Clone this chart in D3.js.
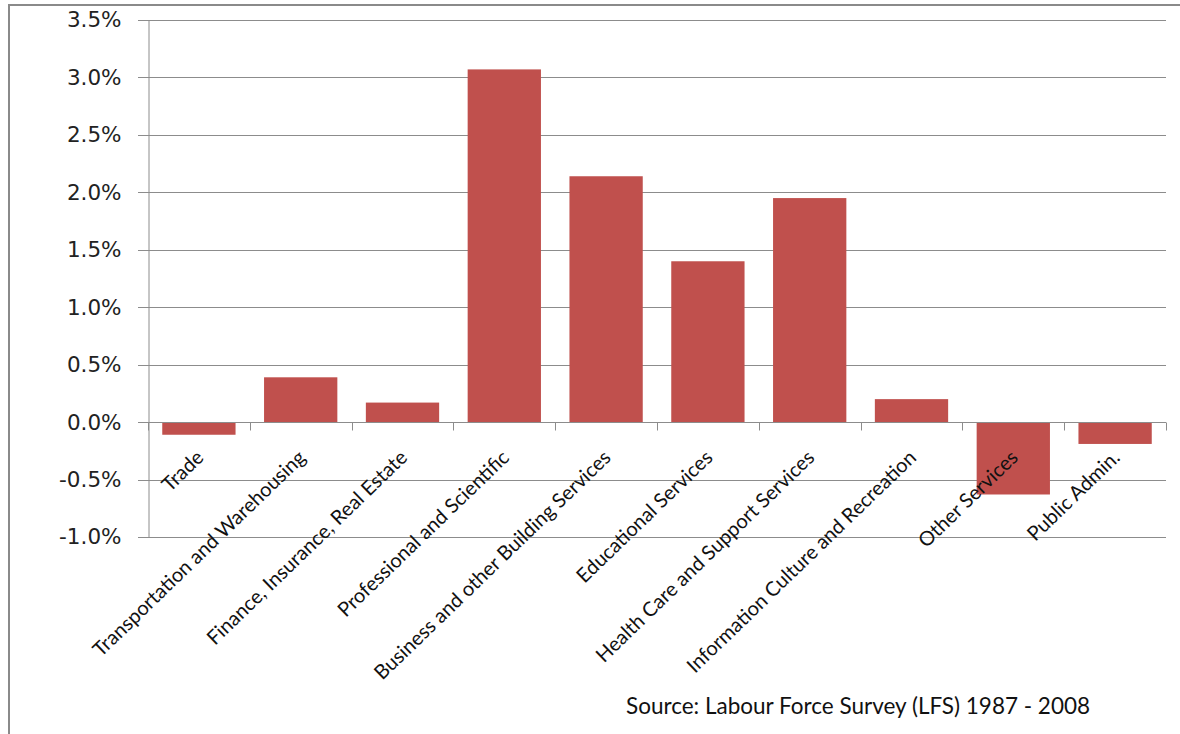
<!DOCTYPE html>
<html>
<head>
<meta charset="utf-8">
<script src="https://cdn.jsdelivr.net/npm/d3@7"></script>
<style>
  body { margin: 0; background: #fff; }
  svg { display: block; }
</style>
</head>
<body>
<div id="chart"></div>
<script>
// chart data
var categories = ["Trade", "Transportation and Warehousing", "Finance, Insurance, Real Estate",
    "Professional and Scientific", "Business and other Building Services", "Educational Services",
    "Health Care and Support Services", "Information Culture and Recreation", "Other Services",
    "Public Admin."];
var values = [-0.0011, 0.0039, 0.0017, 0.0307, 0.0214, 0.0140, 0.0195, 0.0020, -0.0063, -0.0019];
var yTicks = [-0.01, -0.005, 0, 0.005, 0.01, 0.015, 0.02, 0.025, 0.03, 0.035];
var sourceText = "Source: Labour Force Survey (LFS) 1987 - 2008";

var w = 1180;
var h = 734;
var plotLeft = 148, plotRight = 1166, plotTop = 20, plotBottom = 537;

var svg = d3.select("#chart")
    .append("svg")
    .attr("width", w)
    .attr("height", h);

// outer frame (only top and left edges visible)
svg.append("path")
    .attr("d", "M9,734 V5 H1180")
    .attr("fill", "none")
    .attr("stroke", "#8a8a8a")
    .attr("stroke-width", 2);

var xScale = d3.scaleBand()
    .domain(categories)
    .range([plotLeft, plotRight])
    .paddingInner(0.28)
    .paddingOuter(0.14);

var yScale = d3.scaleLinear()
    .domain([-0.01, 0.035])
    .range([plotBottom, plotTop]);

//gridlines
svg.append("g")
    .selectAll("line")
    .data(yTicks)
    .enter()
    .append("line")
    .attr("x1", plotLeft - 10)
    .attr("x2", plotRight)
    .attr("y1", function (d) { return Math.round(yScale(d)) + 0.5; })
    .attr("y2", function (d) { return Math.round(yScale(d)) + 0.5; })
    .attr("stroke", "#8c8c8c")
    .attr("stroke-width", 1);

//y axis (plain hyphen for negatives, like the original)
var pct = d3.format(".1%");
var yAxis = d3.axisLeft(yScale)
    .tickValues(yTicks)
    .tickFormat(function (d) { return pct(d).replace("\u2212", "-"); })
    .tickSize(0)
    .tickPadding(27);

var gy = svg.append("g")
    .attr("transform", "translate(" + (plotLeft + 0.5) + ",0)")
    .call(yAxis);
gy.select(".domain").attr("stroke", "#8c8c8c");
gy.selectAll("text")
    .attr("font-family", "DejaVu Sans, sans-serif")
    .attr("font-size", 21.5)
    .attr("fill", "#222");

//bars
svg.selectAll("rect.bar")
    .data(values)
    .enter()
    .append("rect")
    .attr("class", "bar")
    .attr("x", function (d, i) { return xScale(categories[i]); })
    .attr("width", xScale.bandwidth())
    .attr("y", function (d) { return yScale(Math.max(0, d)); })
    .attr("height", function (d) { return Math.abs(yScale(d) - yScale(0)); })
    .attr("fill", "#c0504d");

//x axis at zero
var step = xScale.step();
var zeroY = Math.round(yScale(0)) + 0.5;
svg.append("line")
    .attr("x1", plotLeft)
    .attr("x2", plotRight)
    .attr("y1", zeroY)
    .attr("y2", zeroY)
    .attr("stroke", "#8c8c8c");
svg.append("g")
    .selectAll("line")
    .data(d3.range(categories.length + 1))
    .enter()
    .append("line")
    .attr("x1", function (i) { return Math.round(plotLeft + i * step) + 0.5; })
    .attr("x2", function (i) { return Math.round(plotLeft + i * step) + 0.5; })
    .attr("y1", zeroY)
    .attr("y2", zeroY + 8)
    .attr("stroke", "#8c8c8c");

//category labels
svg.append("g")
    .selectAll("text")
    .data(categories)
    .enter()
    .append("text")
    .attr("transform", function (d) {
        var cx = xScale(d) + xScale.bandwidth() / 2 + 6;
        return "translate(" + cx + "," + 459 + ") rotate(-44)";
    })
    .attr("text-anchor", "end")
    .attr("font-family", "Lato, sans-serif")
    .attr("font-size", 20)
    .attr("fill", "#111")
    .text(function (d) { return d; });

//source
svg.append("text")
    .attr("x", 626)
    .attr("y", 714)
    .attr("font-family", "Lato, sans-serif")
    .attr("font-size", 22.5)
    .attr("fill", "#111")
    .text(sourceText);
</script>
</body>
</html>
